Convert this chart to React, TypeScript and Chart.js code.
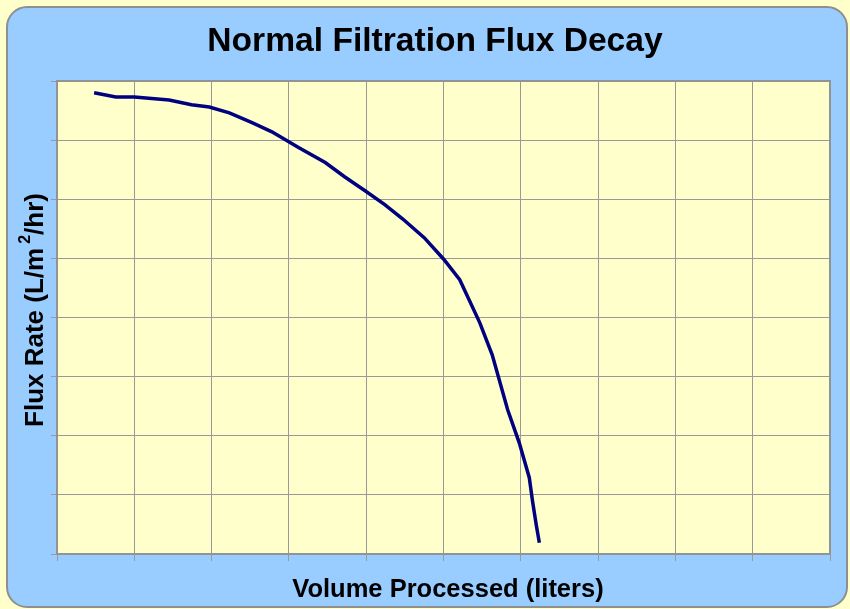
import React, { useEffect, useRef } from "react";
import { Chart, registerables } from "chart.js";

Chart.register(...registerables);

// ---- Data (arbitrary units: no tick labels shown) ----
const volumeProcessed = [0.48, 0.76, 1.0, 1.45, 1.74, 1.97, 2.23, 2.53, 2.78, 3.13, 3.47, 3.72, 3.99, 4.24, 4.47, 4.75, 5.0, 5.21, 5.47, 5.63, 5.83, 5.98, 6.11, 6.15, 6.2, 6.24];
const fluxRate = [7.8, 7.73, 7.73, 7.68, 7.6, 7.56, 7.46, 7.29, 7.14, 6.87, 6.62, 6.38, 6.14, 5.91, 5.67, 5.35, 4.99, 4.64, 3.91, 3.37, 2.44, 1.88, 1.29, 0.91, 0.49, 0.19];

const xRange = [0, 10];
const yRange = [0, 8];

const chartTitle = "Normal Filtration Flux Decay";
const xTitle = "Volume Processed (liters)";
const yTitleParts = ["Flux Rate (L/m", "2", "/hr)"];

const FONT = '"Liberation Sans", Arial, Helvetica, sans-serif';
const GRID = "#999999";

const decorPlugin = {
  id: "decor",
  beforeDraw(chart: any) {
    const { ctx, width, height, chartArea: a } = chart;
    ctx.save();
    ctx.fillStyle = "#FFFFCC";
    ctx.fillRect(0, 0, width, height);
    ctx.beginPath();
    ctx.roundRect(7, 7, 840, 600, 20);
    ctx.fillStyle = "#99CCFF";
    ctx.fill();
    ctx.lineWidth = 2;
    ctx.strokeStyle = "#8f8f8f";
    ctx.stroke();
    ctx.fillStyle = "#FFFFCC";
    ctx.fillRect(a.left, a.top, a.right - a.left, a.bottom - a.top);
    ctx.restore();
  },
  beforeDatasetsDraw(chart: any) {
    const { ctx, chartArea: a } = chart;
    ctx.save();
    ctx.lineWidth = 2;
    ctx.strokeStyle = "#939393";
    ctx.strokeRect(a.left, a.top, a.right - a.left, a.bottom - a.top);
    ctx.restore();
  },
  afterDraw(chart: any) {
    const { ctx } = chart;
    ctx.save();
    ctx.fillStyle = "#000000";
    // Main title
    ctx.font = `bold 33.6px ${FONT}`;
    ctx.textAlign = "center";
    ctx.textBaseline = "alphabetic";
    ctx.fillText(chartTitle, 435, 51);
    // X title
    ctx.font = `bold 25.5px ${FONT}`;
    ctx.fillText(xTitle, 448, 597);
    // Y title (rotated, with superscript)
    ctx.translate(43, 310);
    ctx.rotate(-Math.PI / 2);
    ctx.textAlign = "left";
    const mainFont = `bold 26px ${FONT}`;
    const supFont = `bold 16px ${FONT}`;
    ctx.font = mainFont;
    const w1 = ctx.measureText(yTitleParts[0]).width;
    const w3 = ctx.measureText(yTitleParts[2]).width;
    ctx.font = supFont;
    const w2 = ctx.measureText(yTitleParts[1]).width;
    const gap = 4;
    const total = w1 + gap + w2 + w3;
    let x = -total / 2;
    ctx.font = mainFont;
    ctx.fillText(yTitleParts[0], x, 0);
    x += w1 + gap;
    ctx.font = supFont;
    ctx.fillText(yTitleParts[1], x, -13);
    x += w2;
    ctx.font = mainFont;
    ctx.fillText(yTitleParts[2], x, 0);
    ctx.restore();
  },
};

export default function App() {
  const ref = useRef<HTMLCanvasElement>(null);

  useEffect(() => {
    if (!ref.current) return;
    const chart = new Chart(ref.current, {
      type: "line",
      data: {
        datasets: [
          {
            label: "Flux",
            data: volumeProcessed.map((v, i) => ({ x: v, y: fluxRate[i] })),
            borderColor: "#000080",
            borderWidth: 3.5,
            pointRadius: 0,
            tension: 0,
            fill: false,
          },
        ],
      },
      options: {
        responsive: false,
        animation: false,
        devicePixelRatio: 1,
        layout: { padding: { left: 0, top: 81, right: 20, bottom: 0 } },
        plugins: {
          legend: { display: false },
          title: { display: false },
          tooltip: { enabled: false },
        },
        scales: {
          x: {
            type: "linear",
            min: xRange[0],
            max: xRange[1],
            ticks: { display: false, stepSize: 1 },
            grid: { color: GRID, lineWidth: 1, tickLength: 7, tickColor: GRID, drawTicks: true },
            border: { display: true, color: GRID, width: 2 },
            afterFit: (s: any) => {
              s.height = 55;
            },
          },
          y: {
            type: "linear",
            min: yRange[0],
            max: yRange[1],
            ticks: { display: false, stepSize: 1 },
            grid: { color: GRID, lineWidth: 1, tickLength: 6, tickColor: GRID, drawTicks: true },
            border: { display: true, color: GRID, width: 2 },
            afterFit: (s: any) => {
              s.width = 57;
            },
          },
        },
      },
      plugins: [decorPlugin],
    });
    return () => chart.destroy();
  }, []);

  return (
    <div style={{ position: "fixed", left: 0, top: 0, width: 850, height: 609 }}>
      <canvas ref={ref} width={850} height={609} style={{ display: "block" }} />
    </div>
  );
}
